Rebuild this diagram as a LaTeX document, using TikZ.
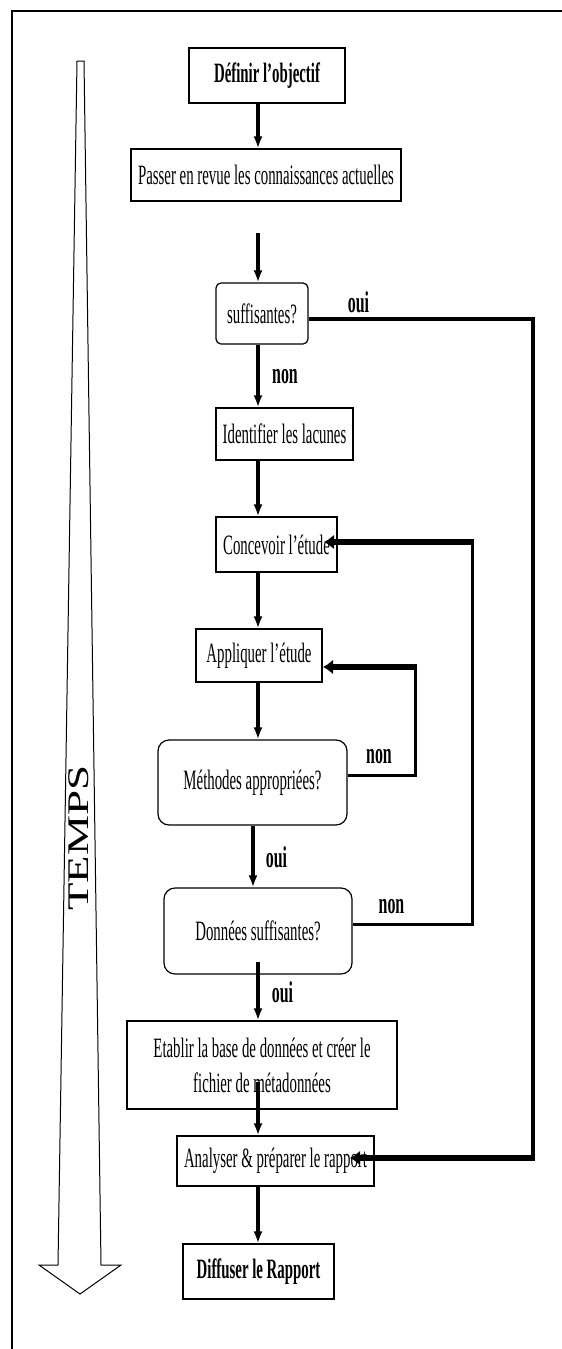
\documentclass[tikz,border=0pt]{standalone}
\usepackage{fontspec}
\usetikzlibrary{arrows.meta,calc}
\newfontfamily\boxfont[FakeStretch=0.53]{Liberation Serif}
\newfontfamily\tempsfont[FakeStretch=1.5]{Liberation Serif}
\begin{document}
\begin{tikzpicture}[x=1pt,y=-1pt,
  stepbox/.style={draw,line width=1.2pt,inner sep=0pt,align=center,
    font=\boxfont\fontsize{28}{35}\selectfont},
  boldbox/.style={stepbox,font=\boxfont\bfseries\fontsize{28}{35}\selectfont},
  roundbox/.style={stepbox,rounded corners=#1},
  conn/.style={line width=3.5pt,-{Latex[length=12pt,width=9pt]}},
  thinfb/.style={line width=3pt},
  thickfb/.style={line width=5.5pt,-{Latex[length=10pt,width=15pt]}},
  lbl/.style={inner sep=0pt,font=\boxfont\bfseries\fontsize{30}{32}\selectfont}]
\useasboundingbox (0,0) rectangle (562,1349);
\fill[white] (0,0) rectangle (562,1349);
% frame
\draw[line width=1.5pt] (12,1349) -- (12,11) -- (562,11);
% time arrow
\draw[line width=1pt,line join=miter] (77,61) -- (84,61) -- (101,1265) -- (121,1265) -- (80,1294) -- (39,1265) -- (58,1265) -- cycle;
\node[rotate=90,inner sep=0pt,font=\tempsfont\fontsize{30}{30}\selectfont] (temps) at (79,838) {TEMPS};
% nodes
\node[boldbox,minimum width=156pt,minimum height=55pt] (def) at (267,75.5) {Définir l’objectif};
\node[stepbox,minimum width=270pt,minimum height=52pt] (pas) at (266,175) {Passer en revue les connaissances actuelles};
\node[roundbox=5pt,minimum width=92pt,minimum height=61pt] (suf) at (262,313.5) {suffisantes?};
\node[stepbox,minimum width=137pt,minimum height=52pt] (ide) at (284.5,434) {Identifier les lacunes};
\node[stepbox,minimum width=121pt,minimum height=55pt] (con) at (276.5,544.5) {Concevoir l’étude};
\node[stepbox,minimum width=126pt,minimum height=53pt] (app) at (259,655.5) {Appliquer l’étude};
\node[roundbox=11pt,minimum width=189pt,minimum height=85pt] (met) at (252.5,782.5) {Méthodes appropriées?};
\node[roundbox=11pt,minimum width=188pt,minimum height=86pt] (don) at (258,931) {Données suffisantes?};
\node[stepbox,minimum width=270pt,minimum height=88pt] (eta) at (262,1065) {Etablir la base de données et créer le\\fichier de métadonnées};
\node[stepbox,minimum width=197pt,minimum height=50pt] (ana) at (275.5,1161) {Analyser \& préparer le rapport};
\node[boldbox,minimum width=151pt,minimum height=55pt] (dif) at (258.5,1271.5) {Diffuser le Rapport};
% labels
\node[lbl] (l1) at (358.5,302) {oui};
\node[lbl] (l2) at (285,377) {non};
\node[lbl] (l3) at (379,757) {non};
\node[lbl] (l4) at (276.5,857) {oui};
\node[lbl] (l5) at (391.5,907) {non};
\node[lbl] (l6) at (282.5,992) {oui};
% coordinates
\coordinate (sp) at (258,0);
\coordinate (sq) at (253,0);
\coordinate (free) at (258,233);
\coordinate (donout) at (258,962);
\coordinate (etaout) at (258,1082);
\coordinate (r1) at (533,319);
\coordinate (r2) at (533,1158);
\coordinate (anatip) at (350,1158);
\coordinate (c1) at (472,924);
\coordinate (c2) at (472,542);
\coordinate (contip) at (324,542);
\coordinate (a1) at (415,775);
\coordinate (a2) at (415,667);
\coordinate (apptip) at (323,667);
% main connectors
\draw[conn] (def.south -| sp) -- (pas.north -| sp);
\draw[conn] (free) -- (suf.north -| sp);
\draw[conn] (suf.south -| sp) -- (ide.north -| sp);
\draw[conn] (ide.south -| sp) -- (con.north -| sp);
\draw[conn] (con.south -| sp) -- (app.north -| sp);
\draw[conn] (app.south -| sp) -- (met.north -| sp);
\draw[conn] (met.south -| sq) -- (don.north -| sq);
\draw[conn] (donout) -- (eta.north -| sp);
\draw[conn] (etaout) -- (ana.north -| sp);
\draw[conn] (ana.south -| sp) -- (dif.north -| sp);
% feedback: oui -> analyser
\draw[thinfb,line width=3.5pt] (suf.east |- r1) -- (r1) -- ($(r2)+(0,2.75)$);
\draw[thickfb] ($(r2)+(1.5,0)$) -- (anatip);
% feedback: donnees non -> concevoir
\draw[thinfb] (don.east |- c1) -- (c1) -- ($(c2)+(0,-2.75)$);
\draw[thickfb] ($(c2)+(1.5,0)$) -- (contip);
% feedback: methodes non -> appliquer
\draw[thinfb] (met.east |- a1) -- (a1) -- ($(a2)+(0,-2.75)$);
\draw[thickfb] ($(a2)+(1.5,0)$) -- (apptip);
\end{tikzpicture}
\end{document}
